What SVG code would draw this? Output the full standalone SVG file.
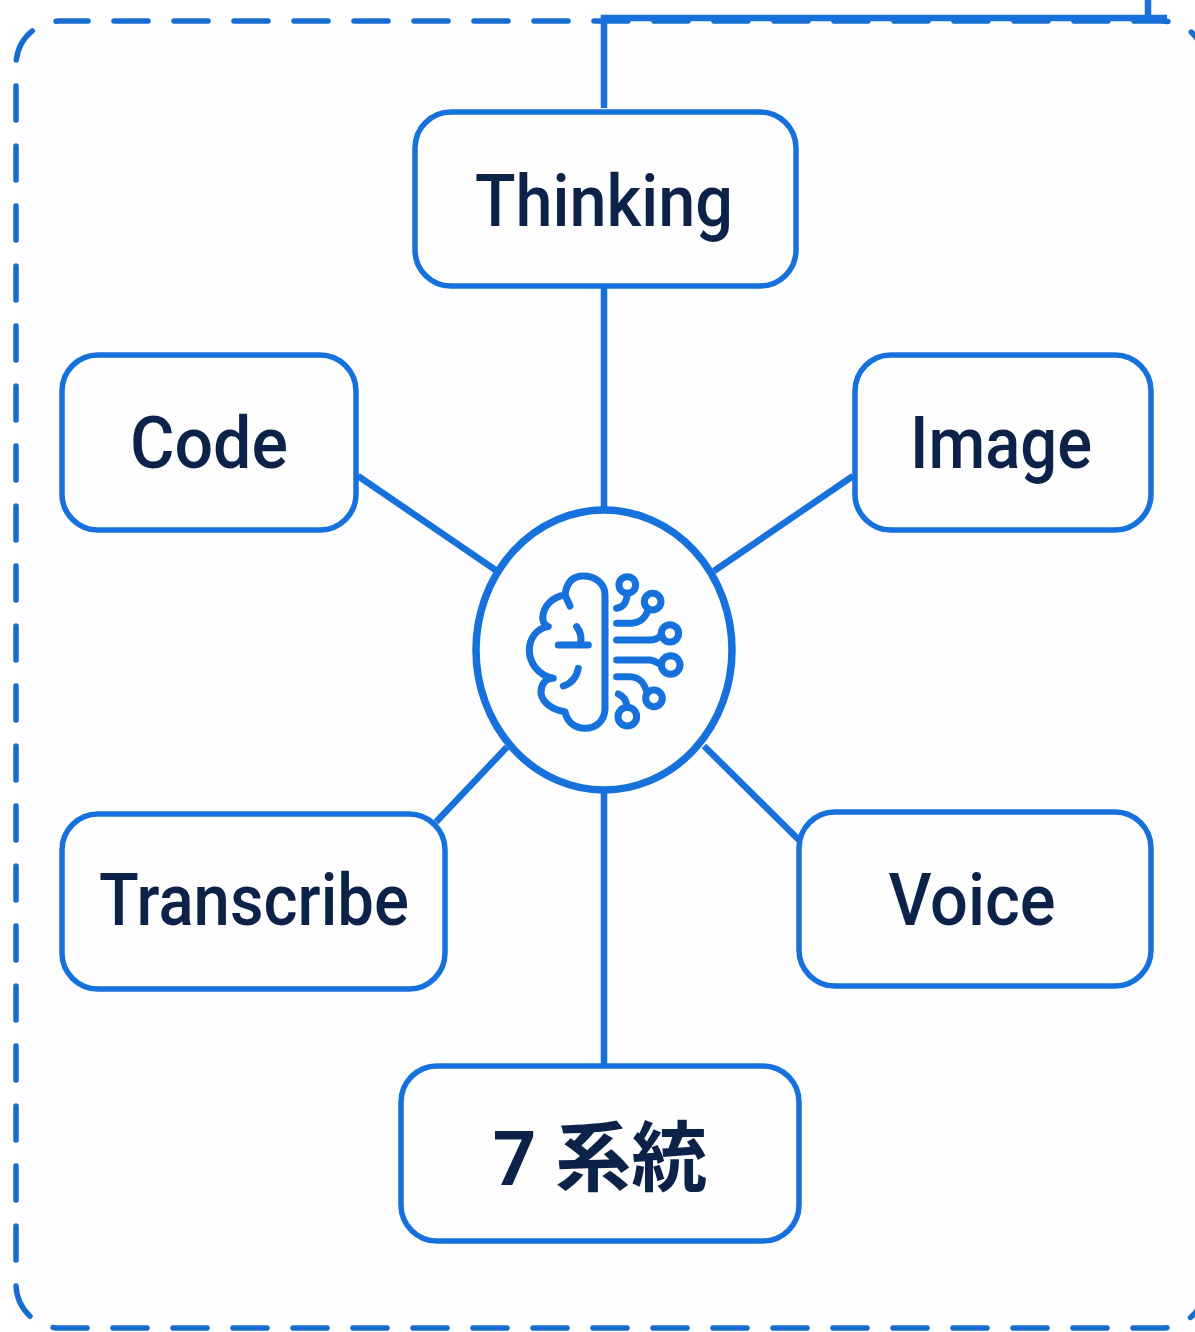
<svg xmlns="http://www.w3.org/2000/svg" width="1195" height="1332" viewBox="0 0 1195 1332">
<style>
.box{fill:#fefeff;stroke:#1571dc;stroke-width:5.5}
.con{fill:none;stroke:#1571dc;stroke-width:6.5}
.lbl{font-family:"Roboto","Noto Sans CJK JP",sans-serif;font-size:72px;font-weight:500;fill:#10244a;text-anchor:middle}
.bold{font-size:76px;font-weight:700}
.ic{fill:none;stroke:#1571dc;stroke-width:21;stroke-linecap:round;stroke-linejoin:round}
</style>
<defs><filter id="soft" x="-5%" y="-5%" width="110%" height="110%"><feGaussianBlur stdDeviation="0.6"/></filter></defs>
<rect width="1195" height="1332" fill="#ffffff"/>
<g filter="url(#soft)">
<rect id="frame" x="16" y="21" width="1190" height="1307" rx="44" fill="#fdfdff" stroke="#176dcf" stroke-width="5.5" stroke-dasharray="34 26" stroke-dashoffset="6" stroke-linecap="round"/>
<g id="connectors" class="con">
<path d="M604,108V18H1167"/>
<path d="M1148,0V18"/>
<path d="M604,286V510"/>
<path d="M358,476L497,571"/>
<path d="M853,476L714,571"/>
<path d="M436,822L507,747"/>
<path d="M799,840L704,746"/>
<path d="M604,790V1066"/>
</g>
<g id="thinking"><rect class="box" x="415" y="112" width="381" height="174" rx="36"/><text class="lbl" x="604" y="226" textLength="258" lengthAdjust="spacingAndGlyphs">Thinking</text></g>
<g id="code"><rect class="box" x="62" y="355" width="294" height="175" rx="36"/><text class="lbl" x="209" y="468" textLength="158" lengthAdjust="spacingAndGlyphs">Code</text></g>
<g id="image"><rect class="box" x="855" y="355" width="296" height="175" rx="36"/><text class="lbl" x="1001" y="468" textLength="182" lengthAdjust="spacingAndGlyphs">Image</text></g>
<g id="transcribe"><rect class="box" x="62" y="814" width="383" height="175" rx="36"/><text class="lbl" x="254" y="925" textLength="310" lengthAdjust="spacingAndGlyphs">Transcribe</text></g>
<g id="voice"><rect class="box" x="799" y="812" width="352" height="174" rx="36"/><text class="lbl" x="972" y="925" textLength="167" lengthAdjust="spacingAndGlyphs">Voice</text></g>
<g id="systems"><rect class="box" x="401" y="1066" width="398" height="175" rx="36"/><text class="lbl bold" x="600" y="1185">7 系統</text></g>
<g id="hub">
<ellipse cx="604" cy="650" rx="128" ry="140" fill="#fefeff" stroke="#1571dc" stroke-width="7.5"/>
<g transform="translate(470 500) scale(.3333)" class="ic">
<path d="M405,285C405,250 375,228 340,228C310,228 290,245 285,285C250,290 220,315 218,355C220,370 228,378 235,380C200,385 178,415 178,450C178,490 205,525 250,535C225,535 212,555 213,580C218,610 250,630 285,635C290,665 315,685 345,685C380,685 405,660 405,625Z"/>
<path d="M285,285L300,318M265,435H355M320,380C335,400 335,420 330,435M325,505C320,530 305,550 280,558"/>
<circle cx="472" cy="255" r="25"/><circle cx="548" cy="305" r="25"/><circle cx="600" cy="400" r="26"/><circle cx="602" cy="495" r="28"/><circle cx="552" cy="595" r="25"/><circle cx="472" cy="650" r="28"/>
<path d="M440,325C460,322 470,310 472,280M440,370H480C510,370 525,355 535,330M440,420H540C555,420 565,415 575,405M440,480H540C555,482 565,490 575,495M440,530H480C510,530 525,555 530,575M445,582C465,590 470,605 472,622"/>
</g>
</g>
</g>
</svg>
